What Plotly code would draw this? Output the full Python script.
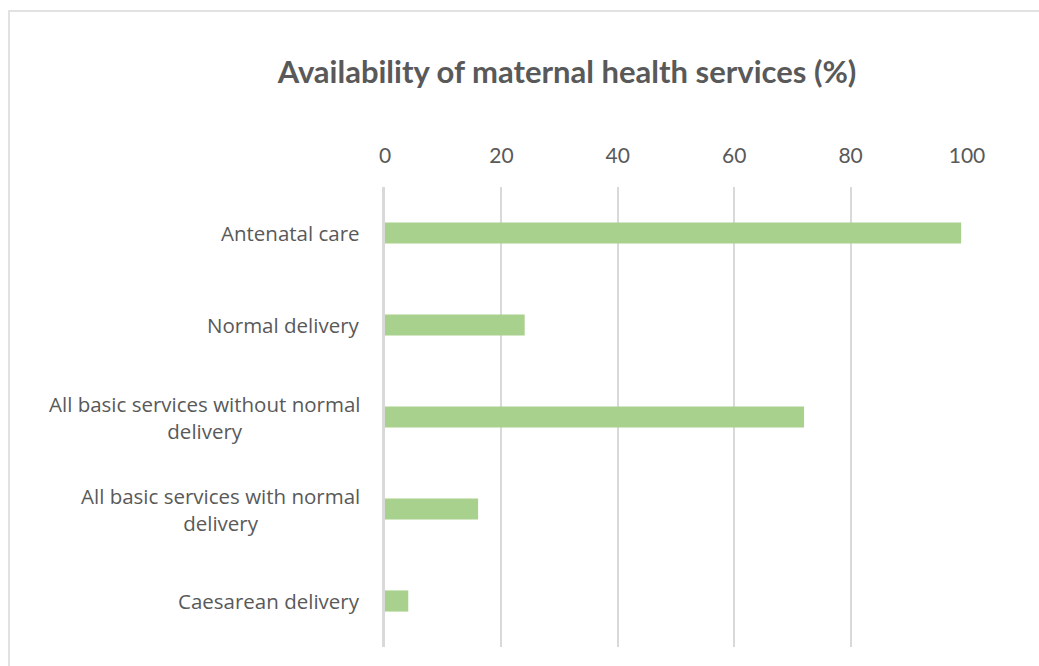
import plotly.graph_objects as go

categories = [
    "Antenatal care",
    "Normal delivery",
    "All basic services without normal<br>delivery",
    "All basic services with normal<br>delivery",
    "Caesarean delivery",
]
values = [99, 24, 72, 16, 4]
tick_vals = [0, 20, 40, 60, 80, 100]

W, H = 1039, 666
L, R, T, B = 385, 72, 187, 19
pw, ph = W - L - R, H - T - B

fig = go.Figure()
fig.add_trace(go.Bar(
    y=categories, x=values, orientation="h",
    marker=dict(color="#a9d18e", line=dict(width=0)),
    width=0.23, hoverinfo="x+y",
))

for c in categories:
    fig.add_annotation(
        x=(362 - L) / pw, xref="paper", y=c, yref="y",
        text=c, showarrow=False, xanchor="right", yanchor="middle", align="center",
        font=dict(family="Open Sans", size=20.5, color="#595959"),
    )

# outer chart border
fig.add_shape(
    type="rect", xref="paper", yref="paper",
    x0=(9 - L) / pw, x1=(1042 - L) / pw,
    y0=(H - T - 700) / ph, y1=(H - B - 11) / ph,
    line=dict(color="#d9d9d9", width=1.5), fillcolor="rgba(0,0,0,0)", layer="below",
)

fig.update_layout(
    width=W, height=H,
    margin=dict(l=L, r=R, t=T, b=B),
    paper_bgcolor="white", plot_bgcolor="white",
    showlegend=False,
    title=dict(
        text="<b>Availability of maternal health services (%)</b>",
        x=567 / W, xref="container", xanchor="center",
        y=1 - 72 / H, yref="container", yanchor="middle",
        font=dict(family="Lato", size=31, color="#595959"),
    ),
    xaxis=dict(
        side="top", range=[0, 100], tickvals=tick_vals,
        showgrid=True, gridcolor="#d9d9d9", gridwidth=1.5,
        zeroline=False, showline=False, ticks="",
        ticklabelstandoff=19,
        tickfont=dict(family="Lato", size=21, color="#595959"),
    ),
    yaxis=dict(
        categoryorder="array", categoryarray=categories, autorange="reversed",
        showticklabels=False, showgrid=False, zeroline=False, ticks="",
        showline=True, linecolor="#d9d9d9", linewidth=3, layer="above traces",
    ),
)

fig.write_html("out.html")
